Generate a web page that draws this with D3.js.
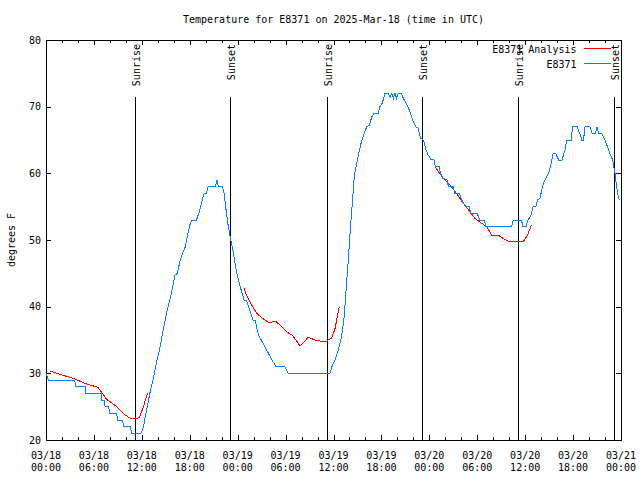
<!DOCTYPE html>
<html><head><meta charset="utf-8">
<script src="https://cdn.jsdelivr.net/npm/d3@7"></script>
<style>body{margin:0;background:#fff}</style>
</head><body><svg id="c" width="640" height="480"></svg>
<script>
// ---- data (hours since 2025-03-18 00:00 UTC, degrees F) ----
const obsHours = [0.0,0.3,3.6,3.7,4.9,5.0,6.9,7.0,7.3,7.4,7.85,7.95,8.85,8.95,9.6,9.7,10.6,10.7,11.9,12.2,12.6,13.0,13.4,13.9,14.2,14.6,15.2,15.7,16.15,16.45,16.8,17.1,17.45,17.7,18.0,18.3,18.85,19.2,19.5,19.8,20.1,20.3,21.2,21.4,21.6,22.1,22.3,22.55,22.8,23.1,23.4,23.6,23.9,24.2,24.5,24.8,25.1,25.5,25.9,26.2,26.6,27.0,27.4,27.85,28.3,28.8,29.9,30.35,35.55,35.8,36.2,36.6,37.0,37.3,37.55,37.85,38.15,38.4,38.6,38.9,39.2,39.5,39.85,40.15,40.5,40.8,41.1,41.6,41.8,42.1,42.45,42.85,43.1,43.3,43.5,43.7,43.9,44.1,44.5,44.75,45.1,45.4,45.65,46.0,46.3,46.6,46.9,47.25,47.6,47.85,48.2,48.6,48.75,49.25,49.4,49.7,50.2,50.4,51.0,51.2,51.75,52.05,52.5,53.0,53.2,54.0,54.3,54.85,55.1,58.3,58.5,59.55,59.7,60.1,60.35,60.7,61.0,61.35,61.55,61.85,62.1,62.3,62.6,63.0,63.3,63.5,63.8,64.2,64.6,65.0,65.2,65.75,65.95,66.5,66.9,67.1,67.3,67.5,68.1,68.4,68.8,69.0,69.2,69.6,70.0,70.3,70.6,70.95,71.25,71.45,71.7,71.9];
const obsTemps = [30,29,29,28,28,27,27,26,26,25,25,24,24,23,23,22,22,21,21,22,24.5,27,29,32,33.5,36,39.6,42,44.75,45,47,48,49,50.5,52.25,53,53,54.25,55.75,57,57,58,58,59,58,58,57,54.5,52.25,50.25,48.5,47,45,43.5,42.25,41,41,39.5,38,37.9,35.75,34.9,34,33,32,31,31,30,30,31,32,33.5,35.5,38,42,47,52.25,56.25,59.5,61.5,63.25,64.75,66,67,67.25,68.5,69,69,70,70.5,72,72,71.4,72,71.25,72,71.25,72,72,71.25,70.5,69.75,69,67.75,67,66.75,65.25,65,63.5,62.75,62.1,62,61,61,60,59.2,59.1,58,58,57,57,56,55,55,54,54,53,53,52,52,53,53,52,52,53,53.6,55,55.1,56,56.25,57.6,58.5,59.25,60.25,61.75,63,63,62,62,63.5,65,65,67,67,65.75,65,65,67,67,66,66,67,66,65.9,65,64,63,62,60,58,56.25,56];

// analysis series: null marks a gap between runs
const anaHours = [0.5,1.75,3.4,5.1,6.5,7.0,7.6,8.3,8.85,9.4,9.9,10.7,11.3,11.7,12.2,12.7, 13.0,
                  24.8,25.1,25.75,26.4,27.0,27.85,28.8,29.3,30.1,30.8,31.3,31.8,32.85,33.7,34.65,35.15,35.8,36.2,36.7, 37.0,
                  48.7,49.75,50.6,51.4,52.25,53.1,53.7,54.55,55.2,55.8,56.6,57.05,57.7,58.3,59.75,60.25,60.8];
const anaTemps = [30.35,29.85,29.25,28.4,27.9,27.1,26.1,25.5,25,24.3,23.75,23.15,23.2,23.4,25,27, null,
                  42.75,41.75,40.25,39,38.35,37.65,37.75,37.25,36.25,35.75,35,34.1,35.4,35,34.75,34.85,35.35,36.75,39.9, null,
                  61,59.25,58.25,57,55.5,54.25,53.25,52.5,52,50.75,50.75,50.4,49.9,49.75,49.75,50.6,52.25];

const sunriseHours = [11.18, 35.22, 59.14];
const sunsetHours  = [23.08, 47.12, 71.16];
const yTickValues  = [20,30,40,50,60,70,80];
const titleText = "Temperature for E8371 on 2025-Mar-18 (time in UTC)";
const yLabel = "degrees F";
const legendNames = ["E8371 Analysis", "E8371"];

// ---- drawing ----
const start = Date.UTC(2025,2,18,0,0);
const toDate = h => new Date(start + h*3600e3);
const L = 46, R = 621, T = 40, B = 440;
const font = "'DejaVu Sans Mono', monospace";
const svg = d3.select("#c");

const x = d3.scaleUtc().domain([toDate(0), toDate(72)]).range([L, R]);
const y = d3.scaleLinear().domain([20, 80]).range([B, T]);

const g = svg.append("g").attr("font-family", font).attr("font-size", 10).attr("fill", "#000");

// title
g.append("text").attr("x", (L+R)/2).attr("y", 23).attr("text-anchor","middle").text(titleText);

// y label
g.append("text").attr("transform", `translate(15,${(T+B)/2}) rotate(-90)`).attr("text-anchor","middle").text(yLabel);

// ticks
const ax = svg.append("g").attr("stroke","#000").attr("stroke-width",1).attr("shape-rendering","crispEdges");
const minor = x.ticks(d3.utcHour.every(2));
const major = x.ticks(d3.utcHour.every(6));
minor.forEach(d => {
  const px = Math.round(x(d)) + 0.5;
  const isMajor = d.getUTCHours() % 6 === 0;
  const len = isMajor ? 5 : 3;
  ax.append("line").attr("x1",px).attr("x2",px).attr("y1",B).attr("y2",B-len);
  ax.append("line").attr("x1",px).attr("x2",px).attr("y1",T).attr("y2",T+len);
});
yTickValues.forEach(v => {
  const py = Math.round(y(v)) + 0.5;
  ax.append("line").attr("x1",L).attr("x2",L+5).attr("y1",py).attr("y2",py);
  ax.append("line").attr("x1",R).attr("x2",R-5).attr("y1",py).attr("y2",py);
  g.append("text").attr("x", 41).attr("y", y(v)+3.6).attr("text-anchor","end").text(v);
});
const fDay = d3.utcFormat("%m/%d"), fHr = d3.utcFormat("%H:%M");
major.forEach(d => {
  const t = g.append("text").attr("text-anchor","middle");
  t.append("tspan").attr("x", x(d)).attr("y", 458.5).text(fDay(d));
  t.append("tspan").attr("x", x(d)).attr("y", 471).text(fHr(d));
});

// sunrise / sunset markers
const events = sunriseHours.map(h => ({h, name:"Sunrise"})).concat(sunsetHours.map(h => ({h, name:"Sunset"})));
events.forEach(e => {
  const px = Math.round(x(toDate(e.h))) + 0.5;
  ax.append("line").attr("x1",px).attr("x2",px).attr("y1",97).attr("y2",B);
  g.append("text").attr("transform", `translate(${px+4},44) rotate(-90)`).attr("text-anchor","end").text(e.name);
});

// border
ax.append("rect").attr("x",L+0.5).attr("y",T+0.5).attr("width",R-L).attr("height",B-T).attr("fill","none");

// series
const blue = "#0a7cff", red = "#ff0000";
const obs = obsHours.map((h,i) => ({d: toDate(h), t: obsTemps[i]}));
const ana = anaHours.map((h,i) => ({d: toDate(h), t: anaTemps[i]}));
const line = d3.line().defined(p => p.t != null).x(p => x(p.d)).y(p => y(p.t));
svg.append("path").datum(ana).attr("d", line).attr("fill","none").attr("stroke",red).attr("stroke-width",1).attr("shape-rendering","crispEdges");
svg.append("path").datum(obs).attr("d", line).attr("fill","none").attr("stroke",blue).attr("stroke-width",1).attr("shape-rendering","crispEdges");

// legend
const colors = [red, blue];
legendNames.forEach((n,i) => {
  const ly = 48.5 + i*15;
  g.append("text").attr("x", 576.5).attr("y", ly+4).attr("text-anchor","end").text(n);
  svg.append("line").attr("x1",584).attr("x2",611).attr("y1",ly).attr("y2",ly).attr("stroke",colors[i]).attr("stroke-width",1).attr("shape-rendering","crispEdges");
});
</script>
</body></html>
